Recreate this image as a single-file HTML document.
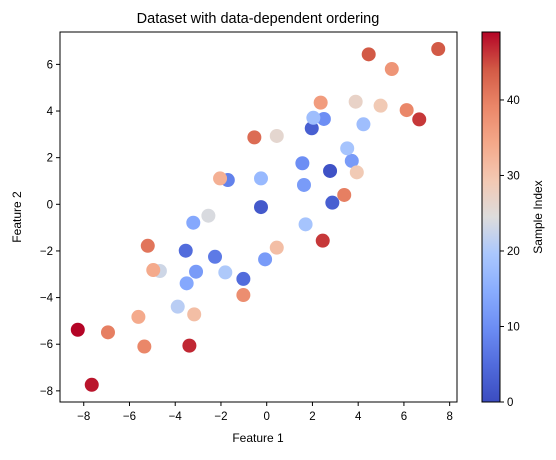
<!DOCTYPE html>
<html><head><meta charset="utf-8"><style>
body{margin:0;background:#fff;}
svg text{font-family:"Liberation Sans","DejaVu Sans",sans-serif;fill:#000;}
</style></head><body>
<svg id="chart" width="556" height="455" xmlns="http://www.w3.org/2000/svg">
<rect width="556" height="455" fill="#fff"/>
<text x="258" y="23" font-size="14.5" text-anchor="middle">Dataset with data-dependent ordering</text>
<g id="marks"></g>
<rect x="60" y="32" width="397" height="370" fill="none" stroke="#000" stroke-width="1"/>
<g id="xticks"></g><g id="yticks"></g>
<text x="258" y="442" font-size="12" text-anchor="middle">Feature 1</text>
<text x="21" y="217" font-size="12" text-anchor="middle" transform="rotate(-90 21 217)">Feature 2</text>
<defs><linearGradient id="cg" x1="0" y1="1" x2="0" y2="0"></linearGradient></defs>
<rect x="482" y="32" width="18" height="370" fill="url(#cg)" stroke="#000" stroke-width="1"/>
<g id="cticks"></g>
<text x="542" y="217" font-size="12" text-anchor="middle" transform="rotate(-90 542 217)">Sample Index</text>
</svg>
<script>
const xs = [-0.54,0.44,-2.04,-1.7,-0.25,-0.25,-2.55,-3.21,-5.2,-3.54,-2.26,0.44,-0.07,-4.67,-4.96,-3.09,-1.81,-3.5,-1.02,-1.02,-3.89,-3.17,-5.61,-8.26,-6.94,-5.35,-3.38,-7.65,4.46,7.5,5.47,2.36,3.89,4.98,6.12,6.67,2.5,2.04,1.97,4.23,3.52,3.72,1.56,2.77,3.94,1.63,3.39,2.87,1.7,2.45];
const ys = [2.87,2.93,1.11,1.04,1.11,-0.12,-0.49,-0.79,-1.78,-1.99,-2.25,-1.86,-2.36,-2.86,-2.82,-2.89,-2.92,-3.39,-3.2,-3.89,-4.39,-4.72,-4.83,-5.38,-5.49,-6.1,-6.06,-7.74,6.43,6.66,5.8,4.36,4.4,4.23,4.04,3.64,3.66,3.71,3.26,3.43,2.4,1.86,1.76,1.43,1.37,0.83,0.4,0.07,-0.86,-1.56];
const idx = [42,26,33,8,17,2,24,14,41,5,7,31,12,23,34,12,20,14,5,38,21,31,34,49,40,39,47,48,44,44,37,36,27,29,39,46,10,18,3,18,19,12,10,1,29,12,40,3,19,46];
const xTicks = [-8,-6,-4,-2,0,2,4,6,8];
const yTicks = [-8,-6,-4,-2,0,2,4,6];
const cTicks = [0,10,20,30,40];
const cmin = 0, cmax = 49;
const NS = "http://www.w3.org/2000/svg";
const sx = v => 266.7 + 22.87 * v;
const sy = v => 204.3 - 23.32 * v;
const sc = v => 402 - (v - cmin) / (cmax - cmin) * 370;
const stops = [[59,76,192],[81,107,220],[108,141,244],[137,172,254],[170,199,253],[221,220,220],[243,200,178],[244,168,137],[234,134,104],[210,89,69],[180,4,38]];
function cmap(t){t=Math.max(0,Math.min(1,t))*10;const i=Math.min(9,Math.floor(t)),f=t-i;const a=stops[i],b=stops[i+1];return `rgb(${a.map((c,k)=>Math.round(c+(b[k]-c)*f)).join(',')})`;}
function mk(tag,attrs,parent){const e=document.createElementNS(NS,tag);for(const k in attrs)e.setAttribute(k,attrs[k]);parent.appendChild(e);return e;}
const grad=document.getElementById('cg');
for(let i=0;i<=20;i++){mk('stop',{offset:i/20,'stop-color':cmap(i/20)},grad);}
const marks=document.getElementById('marks');
const order=idx.map((v,i)=>i).sort((a,b)=>idx[a]-idx[b]);
order.forEach(i=>{
  const c=mk('circle',{cx:sx(xs[i]),cy:sy(ys[i]),r:7,fill:cmap((idx[i]-cmin)/(cmax-cmin))},marks);
  
  
});
const xt=document.getElementById('xticks');
xTicks.forEach(v=>{
  const l=mk('line',{x1:sx(v),x2:sx(v),y1:402,y2:406,stroke:'#000'},xt);
  
  
  const t=mk('text',{x:sx(v),y:420,'font-size':11.5,'text-anchor':'middle'},xt);
  t.textContent=v<0?'\u2212'+(-v):String(v);
  
  
});
const yt=document.getElementById('yticks');
yTicks.forEach(v=>{
  const l=mk('line',{x1:56,x2:60,y1:sy(v),y2:sy(v),stroke:'#000'},yt);
  
  
  const t=mk('text',{x:53,y:sy(v)+4,'font-size':11.5,'text-anchor':'end'},yt);
  t.textContent=v<0?'\u2212'+(-v):String(v);
  
  
});
const ct=document.getElementById('cticks');
cTicks.forEach(v=>{
  const l=mk('line',{x1:500,x2:504,y1:sc(v),y2:sc(v),stroke:'#000'},ct);
  
  
  const t=mk('text',{x:507,y:sc(v)+4,'font-size':11.5},ct);
  t.textContent=String(v);
  
  
});
</script>
</body></html>
